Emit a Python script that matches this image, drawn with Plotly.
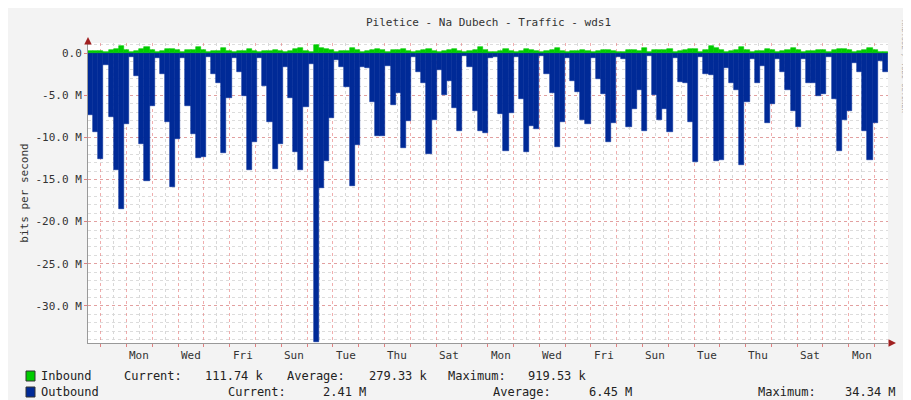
import plotly.graph_objects as go

title = "Piletice - Na Dubech - Traffic - wds1"
outbound = [7.4, 9.4, 12.6, 1.4, 7.6, 13.9, 18.5, 8.4, 0.5, 2.7, 10.8, 15.2, 6.3, 0.6, 2.5, 8.2, 15.9, 10.2, 0.6, 6.3, 9.6, 12.4, 12.3, 0.5, 2.5, 3.6, 11.9, 5.3, 0.6, 2.3, 5.1, 13.9, 10.6, 0.6, 3.9, 8.2, 13.8, 10.8, 1.7, 5.3, 11.7, 13.9, 6.4, 1.3, 34.3, 16.0, 12.8, 7.7, 0.8, 1.7, 4.0, 15.8, 10.9,
            1.6, 1.8, 5.8, 9.8, 9.8, 1.5, 6.2, 4.8, 11.3, 8.1, 0.5, 2.2, 3.6, 12.0, 8.0, 2.0, 5.0, 3.3, 6.5, 9.2, 0.4, 1.7, 6.9, 9.2, 9.5, 0.6, 0.5, 7.2, 11.6, 7.1, 0.5, 5.4, 11.7, 8.6, 9.0, 0.4, 2.5, 4.7, 11.2, 8.2, 0.6, 3.3, 4.6, 7.9, 8.4, 0.6, 3.1, 4.9, 10.6, 8.3, 0.5,
            0.7, 8.8, 6.6, 4.4, 9.2, 0.4, 5.0, 7.9, 6.6, 9.4, 0.6, 3.4, 3.5, 8.2, 12.9, 0.5, 2.5, 2.6, 12.8, 12.7, 1.8, 3.6, 4.4, 13.3, 5.8, 0.7, 3.5, 1.5, 8.3, 6.1, 0.7, 2.2, 4.4, 6.9, 8.8, 0.7, 3.5, 3.6, 5.1, 4.9, 0.5, 5.5, 11.6, 7.9, 6.9, 1.2, 2.2, 9.3, 12.7, 8.3, 0.9, 2.2]
inbound = [0.3,0.3,0.3,0.15,0.35,0.45,0.8,0.4,0.15,0.3,0.5,0.7,0.35,0.15,0.3,0.5,0.5,0.35,0.1,0.35,0.4,0.7,0.4,0.1,0.2,0.3,0.6,0.3,0.1,0.2,0.3,0.5,0.3,0.1,0.2,0.3,0.4,0.3,0.1,0.3,0.5,0.6,0.3,0.1,0.9,0.6,0.5,0.4,0.1,0.2,0.3,0.6,0.4,
           0.15,0.2,0.4,0.5,0.4,0.1,0.35,0.4,0.5,0.3,0.1,0.3,0.4,0.5,0.3,0.15,0.3,0.4,0.5,0.3,0.1,0.3,0.4,0.7,0.4,0.1,0.1,0.3,0.5,0.3,0.1,0.3,0.5,0.4,0.3,0.1,0.3,0.4,0.6,0.3,0.1,0.3,0.3,0.4,0.3,0.1,0.3,0.4,0.4,0.3,0.1,
           0.1,0.4,0.4,0.3,0.6,0.1,0.4,0.4,0.4,0.5,0.1,0.3,0.4,0.5,0.5,0.1,0.4,0.8,0.6,0.4,0.1,0.3,0.4,0.7,0.4,0.1,0.3,0.2,0.5,0.4,0.1,0.3,0.4,0.6,0.4,0.1,0.3,0.3,0.4,0.4,0.1,0.4,0.5,0.5,0.4,0.1,0.3,0.4,0.6,0.4,0.1,0.11]
day_labels = ["Mon","Wed","Fri","Sun","Tue","Thu","Sat","Mon","Wed","Fri","Sun","Tue","Thu","Sat","Mon"]
y_ticks = [0, -5, -10, -15, -20, -25, -30]
y_ticktext = ["0.0", "-5.0 M", "-10.0 M", "-15.0 M", "-20.0 M", "-25.0 M", "-30.0 M"]
inb_stats = ["111.74 k", "279.33 k", "919.53 k"]
out_stats = ["2.41 M", "6.45 M", "34.34 M"]

n = len(outbound)
first_midnight = 2.48
day_len = 5.03
n_days = 31
midnights = [first_midnight + k * day_len for k in range(n_days)]
noons = [m + day_len / 2 for m in midnights]
label_pos = [noons[1 + 2 * i] for i in range(len(day_labels))]

xs = list(range(n))
fig = go.Figure()
fig.add_bar(x=xs, y=[-v for v in outbound], width=1, offset=0,
            marker=dict(color="#002a97", line=dict(color="#002a97", width=0.6)), xaxis="x2")
fig.add_bar(x=xs, y=inbound, width=1, offset=0,
            marker=dict(color="#00cc00", line=dict(color="#00cc00", width=0.6)), xaxis="x2")

mono = "DejaVu Sans Mono"
fs = 11
fig.update_layout(
    width=911, height=400, margin=dict(l=80, r=31, t=35, b=65, autoexpand=False),
    paper_bgcolor="#f3f3f3", plot_bgcolor="white", showlegend=False, barmode="overlay", bargap=0,
    font=dict(family=mono, size=fs, color="#333"),
    xaxis=dict(range=[0, n], tickvals=noons, showticklabels=False, showgrid=True, automargin=False,
               gridcolor="#d8d8d8", griddash="dot", zeroline=False, showline=True, linecolor="#999",
               ticks="", fixedrange=True),
    xaxis2=dict(range=[0, n], overlaying="x", tickvals=midnights, showticklabels=False, showgrid=True,
                automargin=False, gridcolor="rgba(230,120,120,0.6)", griddash="dot", zeroline=False,
                ticks="outside", ticklen=3, tickcolor="#e08080", side="bottom"),
    yaxis=dict(range=[-34.4, 1.19], tickvals=y_ticks, ticktext=y_ticktext, showgrid=True, automargin=False,
               gridcolor="rgba(230,120,120,0.6)", griddash="dot", zeroline=False, showline=True,
               linecolor="#999", ticks="outside", ticklen=3, tickcolor="#e08080",
               minor=dict(dtick=1, showgrid=True, gridcolor="#dcdcdc", griddash="dot"),
               title=dict(text="bits per second", standoff=4, font=dict(size=fs))),
)
for p, t in zip(label_pos, day_labels):
    fig.add_annotation(x=p, y=0, xref="x", yref="paper", yanchor="top", yshift=-4, text=t, showarrow=False,
                       font=dict(size=fs))
fig.add_annotation(x=0.5, y=1, xref="paper", yref="paper", yshift=21, yanchor="middle", text=title,
                   showarrow=False, font=dict(size=fs))
fig.add_annotation(x=(902-80)/800, y=(335-10)/300, xref="x domain", yref="y domain",
                   text="RRDTOOL / TOBI OETIKER", textangle=90, showarrow=False,
                   font=dict(size=7, color="#aaa"), yanchor="top")
# arrows
fig.add_annotation(x=1.01, y=0, xref="x domain", yref="y domain", ax=-6, ay=0, showarrow=True, arrowhead=2,
                   arrowsize=1, arrowwidth=1.5, arrowcolor="#a02020", text="")
fig.add_annotation(x=0, y=1.02, xref="x domain", yref="y domain", ax=0, ay=6, showarrow=True, arrowhead=2,
                   arrowsize=1, arrowwidth=1.5, arrowcolor="#a02020", text="")

def txt(px, py, s):
    fig.add_annotation(x=(px-80)/800, y=(335-py)/300, xref="x domain", yref="y domain", text=s, showarrow=False,
                       xanchor="left", yanchor="middle", font=dict(family=mono, size=fs+1, color="#222"))

def sq(px, py, color):
    fig.add_shape(type="rect", xref="x domain", yref="y domain", x0=(px-80)/800, x1=(px+9-80)/800,
                  y0=(335-py-5)/300, y1=(335-py+5)/300, fillcolor=color, line=dict(color="#333", width=1))

sq(18, 368, "#00cc00"); sq(18, 384, "#002a97")
txt(31, 368, "Inbound"); txt(114, 368, "Current:"); txt(195, 368, inb_stats[0])
txt(277, 368, "Average:"); txt(359, 368, inb_stats[1]); txt(438, 368, "Maximum:"); txt(518, 368, inb_stats[2])
txt(31, 384, "Outbound"); txt(218, 384, "Current:"); txt(313, 384, out_stats[0])
txt(483, 384, "Average:"); txt(579, 384, out_stats[1]); txt(748, 384, "Maximum:"); txt(835, 384, out_stats[2])
fig.write_html("out.html")
